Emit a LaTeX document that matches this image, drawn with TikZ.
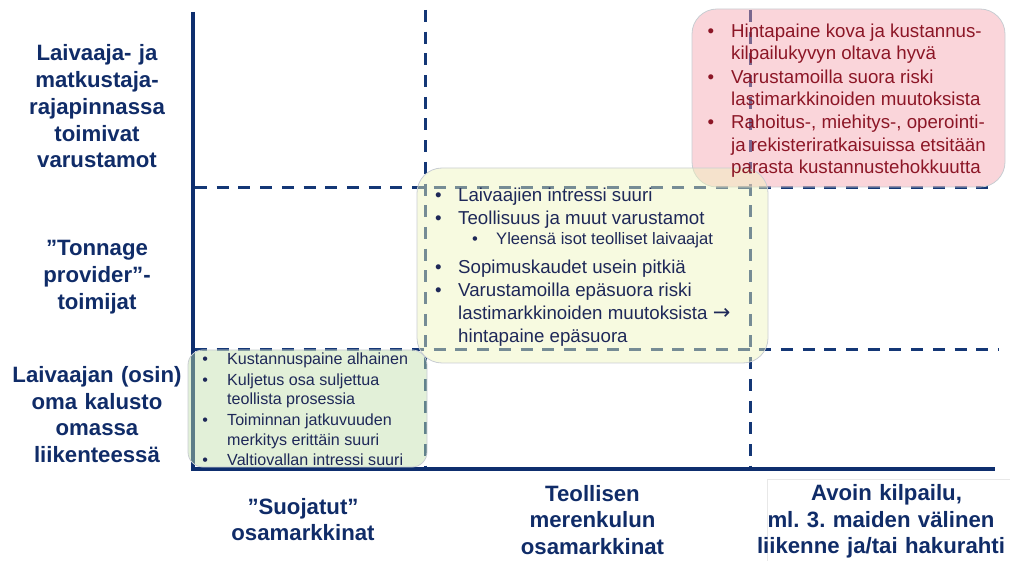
\documentclass[tikz,border=0pt]{standalone}
\usepackage{fontspec}
\setmainfont{Liberation Sans}
\newfontfamily\arrowfont{DejaVu Sans}

\definecolor{axisblue}{RGB}{14,46,110}
\definecolor{gridblue}{RGB}{20,55,118}
\definecolor{labelblue}{RGB}{16,44,104}
\definecolor{bodyblue}{RGB}{30,40,88}
\definecolor{riskred}{RGB}{140,22,38}
\definecolor{redfill}{RGB}{244,162,173}
\definecolor{yellowfill}{RGB}{238,244,187}
\definecolor{greenfill}{RGB}{191,222,168}
\definecolor{panelrim}{RGB}{200,205,210}

% bullet followed by a fixed indent
\newcommand{\bulletbox}[1]{\makebox[#1][l]{•}}
\frenchspacing

\begin{document}
\begin{tikzpicture}[x=1pt,y=-1pt,
  axisline/.style={draw=axisblue,line width=4pt},
  gridline/.style={draw=gridblue,line width=3pt,dash pattern=on 12pt off 9.7pt},
  panel/.style={draw=panelrim,line width=0.8pt,fill opacity=0.45,
    anchor=north west,inner sep=0pt,outer sep=0pt},
  axislabel/.style={text=labelblue,font=\fontsize{22.2}{26.7}\selectfont\bfseries,
    text width=262pt,align=center,anchor=base,inner sep=0pt},
  redline/.style={text=riskred,font=\fontsize{18.7}{22.8}\selectfont,
    anchor=base west,inner sep=0pt},
  yelline/.style={text=bodyblue,font=\fontsize{18.7}{22.8}\selectfont,
    anchor=base west,inner sep=0pt},
  subline/.style={text=bodyblue,font=\fontsize{16.6}{20}\selectfont,
    anchor=base west,inner sep=0pt},
  grnline/.style={text=bodyblue,font=\fontsize{16.1}{20}\selectfont,
    anchor=base west,inner sep=0pt}]

\useasboundingbox (0,0) rectangle (1010,561);

% axes
\coordinate (origin) at (193,468.5);
\coordinate (ytip) at (193,12);
\coordinate (xtip) at (995,468.5);
\draw[axisline] (ytip) -- (origin) -- (xtip);

% dashed grid
\draw[gridline] (195,188) -- (995,188);
\draw[gridline] (195,350) -- (998,350);
\draw[gridline] (425,10) -- (425,466);
\draw[gridline] (750.5,10) -- (750.5,466);

% translucent panels
\node[panel,fill=redfill,rounded corners=25pt,minimum width=313pt,minimum height=178pt]
  (riskpanel) at (692,9) {};
\node[panel,fill=yellowfill,rounded corners=25pt,minimum width=351pt,minimum height=195pt]
  (industrypanel) at (417,168) {};
\node[panel,fill=greenfill,rounded corners=15pt,minimum width=239pt,minimum height=117pt]
  (shelterpanel) at (188,350) {};

% open competition panel text
\node[redline] (r1) at (707.5,37.3) {\bulletbox{23.5pt}Hintapaine kova ja kustannus-};
\node[redline] (r2) at (731,60) {kilpailukyvyn oltava hyvä};
\node[redline] (r3) at (707.5,83.3) {\bulletbox{23.5pt}Varustamoilla suora riski};
\node[redline] (r4) at (731,106) {lastimarkkinoiden muutoksista};
\node[redline] (r5) at (707.5,128.7) {\bulletbox{23.5pt}Rahoitus-, miehitys-, operointi-};
\node[redline] (r6) at (731,151.7) {ja rekisteriratkaisuissa etsitään};
\node[redline] (r7) at (731,174) {parasta kustannustehokkuutta};

% industrial shipping panel text
\node[yelline] (y1) at (435,201.7) {\bulletbox{23pt}Laivaajien intressi suuri};
\node[yelline] (y2) at (435,225) {\bulletbox{23pt}Teollisuus ja muut varustamot};
\node[subline] (y3) at (472,245) {\bulletbox{24pt}Yleensä isot teolliset laivaajat};
\node[yelline] (y4) at (435,273.3) {\bulletbox{23pt}Sopimuskaudet usein pitkiä};
\node[yelline] (y5) at (435,296.7) {\bulletbox{23pt}Varustamoilla epäsuora riski};
\node[yelline] (y6) at (458,319.3)
  {lastimarkkinoiden muutoksista {\arrowfont\fontsize{21}{22}\selectfont →}};
\node[yelline] (y7) at (458,342.7) {hintapaine epäsuora};

% sheltered panel text
\node[grnline] (g1) at (202.2,365) {\bulletbox{24.8pt}Kustannuspaine alhainen};
\node[grnline] (g2) at (202.2,385) {\bulletbox{24.8pt}Kuljetus osa suljettua};
\node[grnline] (g3) at (227,405) {teollista prosessia};
\node[grnline] (g4) at (202.2,425) {\bulletbox{24.8pt}Toiminnan jatkuvuuden};
\node[grnline] (g5) at (227,445) {merkitys erittäin suuri};
\node[grnline] (g6) at (202.2,465) {\bulletbox{24.8pt}Valtiovallan intressi suuri};

% row labels
\node[axislabel] (rowtop) at (97,61)
  {Laivaaja- ja\\matkustaja-\\rajapinnassa\\toimivat\\varustamot};
\node[axislabel] (rowmid) at (97,256) {”Tonnage\\provider”-\\toimijat};
\node[axislabel] (rowlow) at (97,382.5)
  {Laivaajan (osin)\\oma kalusto\\omassa\\liikenteessä};

% column labels
\draw[draw=black!9,line width=0.8pt] (767,479) rectangle (1012,563);
\node[axislabel] (colleft) at (303,514) {”Suojatut”\\osamarkkinat};
\node[axislabel] (colmid) at (592.5,501) {Teollisen\\merenkulun\\osamarkkinat};
\node[axislabel] (colright) at (881,500.5)
  {\hspace*{11pt}Avoin kilpailu,\\ml. 3. maiden välinen\\liikenne ja/tai hakurahti};

\end{tikzpicture}
\end{document}
